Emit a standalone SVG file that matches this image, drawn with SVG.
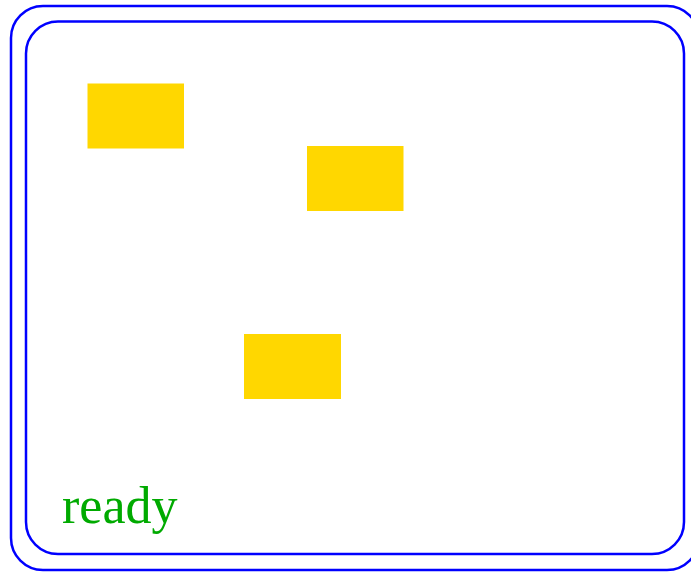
<svg xmlns="http://www.w3.org/2000/svg" width="691" height="572" viewBox="0 0 691 572">
<style>
.frame{fill:none;stroke:#0000ff;stroke-width:2.5}
.box{fill:#ffd700}
.lbl{font-family:"Liberation Serif",serif;font-size:52px;fill:#00aa00}
</style>
<rect width="691" height="572" fill="#ffffff"/>
<g id="outer"><rect class="frame" x="11" y="6" width="688" height="564" rx="32" ry="32"/></g>
<g id="inner"><rect class="frame" x="26" y="21.5" width="658" height="532.5" rx="32" ry="32"/></g>
<g id="box1"><rect class="box" x="87.5" y="83.5" width="96.5" height="65"/></g>
<g id="box2"><rect class="box" x="307" y="146" width="96.5" height="65"/></g>
<g id="box3"><rect class="box" x="244" y="334" width="97" height="65"/></g>
<g id="connectors"></g>
<g id="status"><text class="lbl" x="62" y="523">ready</text></g>
</svg>
